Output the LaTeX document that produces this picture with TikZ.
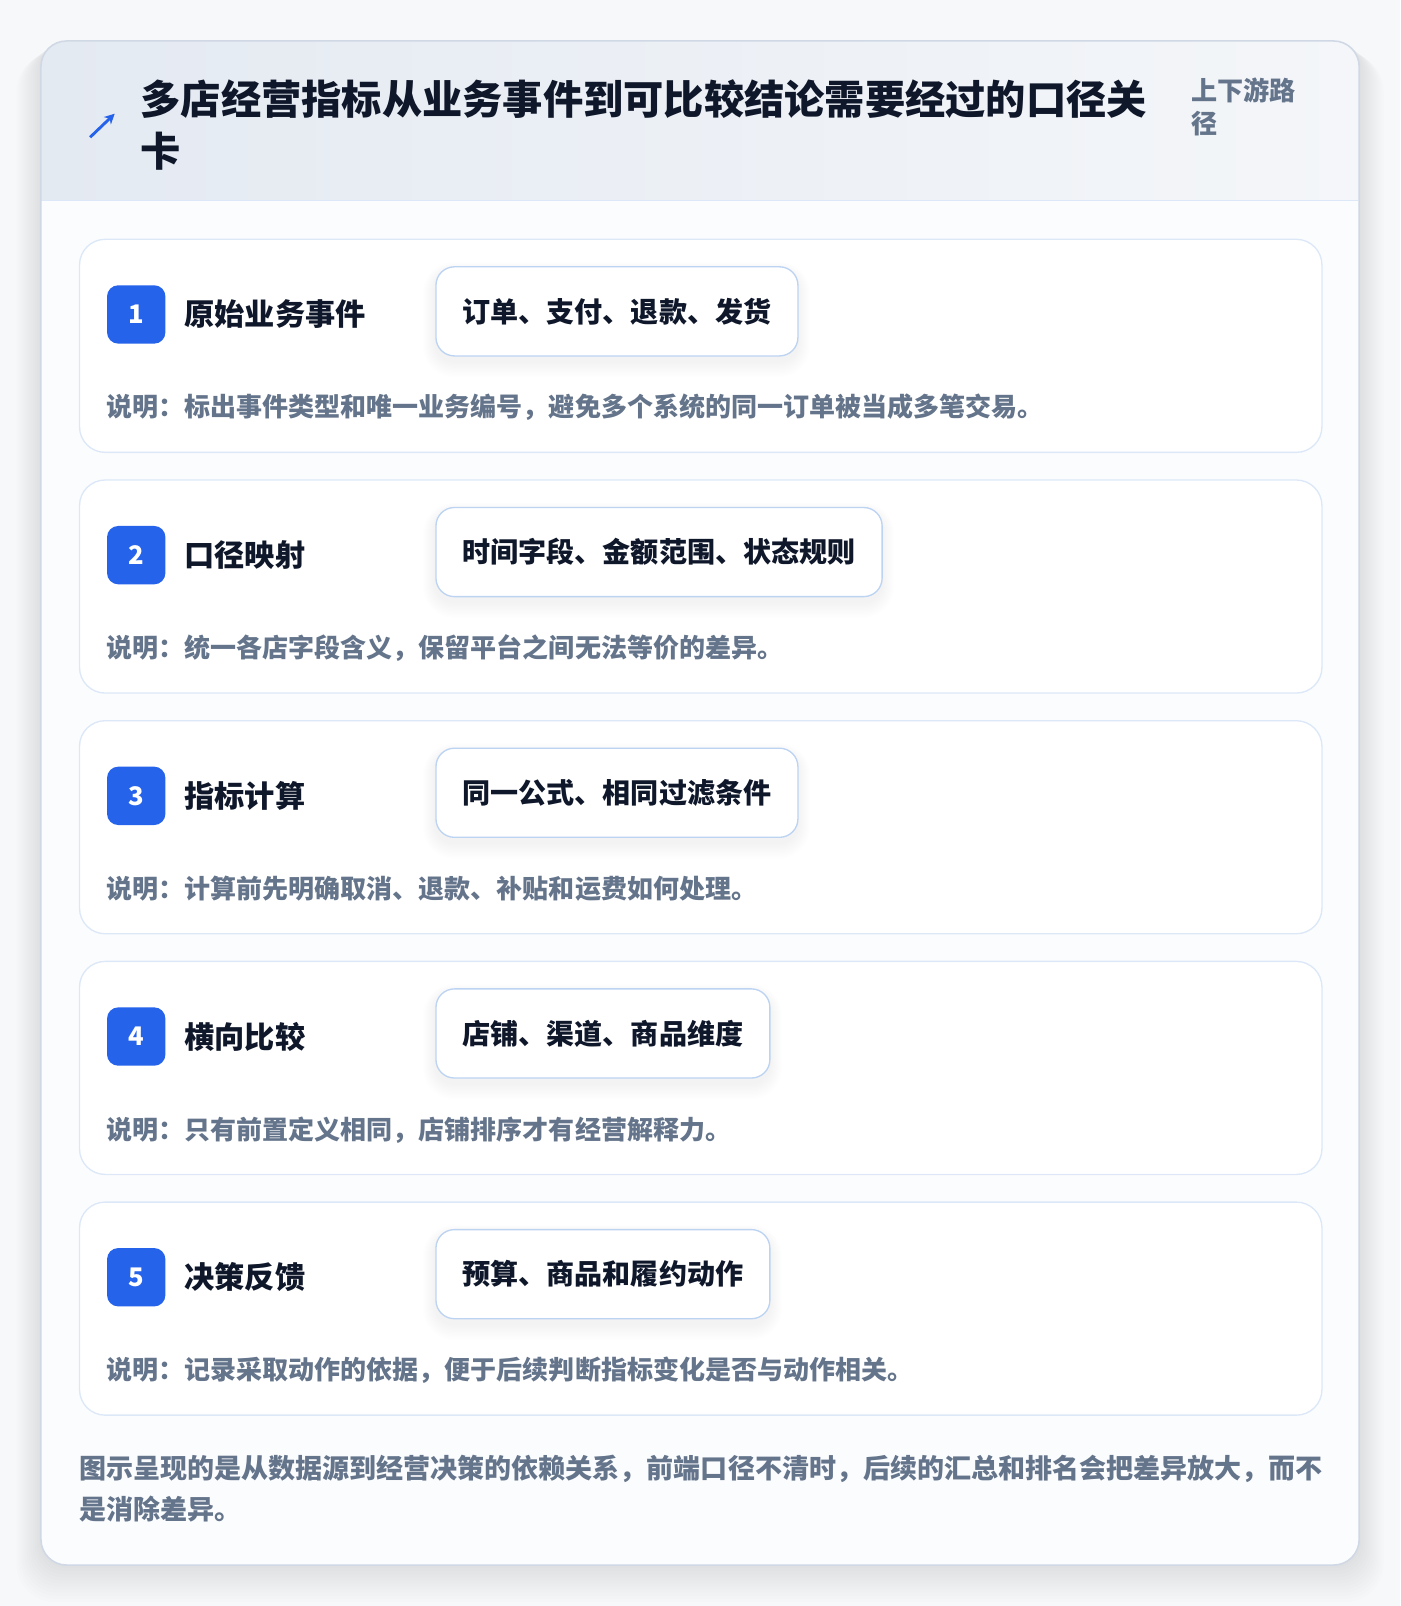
\documentclass[tikz,border=0pt]{standalone}
\usepackage{fontspec}
\setmainfont{Noto Sans CJK SC}
\IfFontExistsTF{Noto Sans CJK SC Black}
  {\newfontfamily\titlefont{Noto Sans CJK SC Black}}
  {\newcommand\titlefont{\bfseries}}
\usetikzlibrary{arrows.meta}
\definecolor{pagebg}{HTML}{F7F8FA}
\definecolor{hdrL}{HTML}{E4EAF2}
\definecolor{hdrR}{HTML}{F4F6F9}
\definecolor{outline}{HTML}{CFD8E4}
\definecolor{cardline}{HTML}{DCE8F8}
\definecolor{chipline}{HTML}{BCD3F2}
\definecolor{ink}{HTML}{0F172A}
\definecolor{muted}{HTML}{64748B}
\definecolor{accent}{HTML}{2563EB}
\definecolor{bodybg}{HTML}{FBFCFE}
\tikzset{
  card/.style={draw=cardline, line width=1.3pt, fill=white, rounded corners=25pt,
    minimum width=1213pt, minimum height=208pt, inner sep=0pt},
  badge/.style={fill=accent, rounded corners=11pt, minimum width=57pt, minimum height=57pt,
    inner sep=0pt, text=white, font=\bfseries\fontsize{25}{28}\selectfont},
  steplabel/.style={anchor=west, inner sep=0pt, text=ink, font=\bfseries\fontsize{29.5}{34}\selectfont},
  chipfont/.style={font=\bfseries\fontsize{27.4}{32}\selectfont},
  chip/.style={chipfont, draw=chipline, line width=1.3pt, fill=white, rounded corners=18pt,
    minimum height=87pt, inner xsep=26pt, inner ysep=0pt, anchor=west, text=ink},
  desc/.style={anchor=west, inner sep=0pt, text=muted, font=\bfseries\fontsize{25.4}{30}\selectfont},
}
\newcommand\mystep[5]{%
  \node[chipfont, inner sep=0pt, anchor=west, minimum height=87pt, inner xsep=26pt] (ghost#1) at (425,#2+71) {\phantom{#4}};
  \node[card, anchor=north west] (card#1) at (77,#2) {};
  \foreach \k in {1,...,12}{
    \fill[black, opacity=0.005, rounded corners=18pt+\k pt]
      ([xshift=-\k pt, yshift=-5pt+0.8*\k pt]ghost#1.north west) rectangle ([xshift=\k pt, yshift=-5pt-1.3*\k pt]ghost#1.south east);
  }
  \node[badge] (badge#1) at (133,#2+74) {#1};
  \node[steplabel] (label#1) at (180,#2+74) {#3};
  \node[chip] (chip#1) at (425,#2+71) {#4};
  \node[desc] (desc#1) at (104,#2+165) {说明：#5};
}
\begin{document}
\begin{tikzpicture}[x=1pt,y=-1pt]
\useasboundingbox (0,0) rectangle (1367,1568);
\fill[pagebg] (0,0) rectangle (1367,1568);
% outer card shadow
\foreach \i in {1,...,12}{
  \fill[black, opacity=0.006, rounded corners=25pt+\i pt]
    (40-2*\i,40+\i) rectangle (1327+2*\i,1528+3*\i);
}
\fill[bodybg, rounded corners=25pt] (40,40) rectangle (1327,1528);
\begin{scope}
  \clip[rounded corners=25pt] (40,40) rectangle (1327,1528);
  \shade[left color=hdrL, right color=hdrR] (40,40) rectangle (1327,196);
\end{scope}
\draw[cardline, line width=1.3pt] (40.7,196) -- (1326.3,196);
\draw[outline, line width=1.5pt, rounded corners=25pt] (40,40) rectangle (1327,1528);

% header
\coordinate (arrowA) at (88,134);
\coordinate (arrowB) at (112,111);
\draw[accent, line width=2.8pt, -{Stealth[length=10pt,width=10pt]}] (arrowA) -- (arrowB);
\node[anchor=west, align=left, inner sep=0pt, text=ink,
  font=\titlefont\fontsize{39.3}{51}\selectfont] (title) at (137,122)
  {多店经营指标从业务事件到可比较结论需要经过的口径关\\卡};
\node[anchor=west, align=left, inner sep=0pt, text=muted,
  font=\bfseries\fontsize{25.5}{32}\selectfont] (side) at (1163,104)
  {上下游路\\径};

\mystep{1}{233}{原始业务事件}{订单、支付、退款、发货}{标出事件类型和唯一业务编号，避免多个系统的同一订单被当成多笔交易。}
\mystep{2}{468}{口径映射}{时间字段、金额范围、状态规则}{统一各店字段含义，保留平台之间无法等价的差异。}
\mystep{3}{703}{指标计算}{同一公式、相同过滤条件}{计算前先明确取消、退款、补贴和运费如何处理。}
\mystep{4}{938}{横向比较}{店铺、渠道、商品维度}{只有前置定义相同，店铺排序才有经营解释力。}
\mystep{5}{1173}{决策反馈}{预算、商品和履约动作}{记录采取动作的依据，便于后续判断指标变化是否与动作相关。}

\node[anchor=west, align=left, inner sep=0pt, text=muted,
  font=\bfseries\fontsize{26.4}{40}\selectfont] (footer) at (77,1453)
  {图示呈现的是从数据源到经营决策的依赖关系，前端口径不清时，后续的汇总和排名会把差异放大，而不\\是消除差异。};
\end{tikzpicture}
\end{document}
